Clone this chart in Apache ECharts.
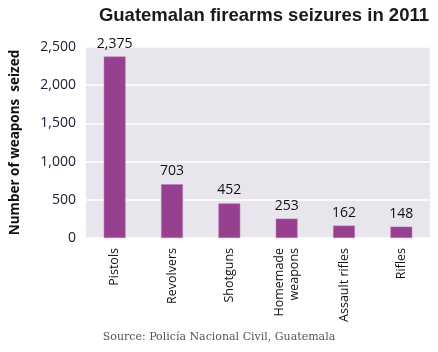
<!DOCTYPE html>
<html lang="en">
<head>
    <meta charset="UTF-8">
    <title>Guatemalan firearms seizures in 2011</title>
    <style>
        html, body { margin: 0; padding: 0; background: #fff; }
    </style>
</head>
<body>
<div id="chart1" style="width: 438px; height: 352px;"></div>

<script type="text/javascript" src="https://cdn.jsdelivr.net/npm/echarts@6/dist/echarts.min.js"></script>
<script type="text/javascript">
    var categories = ['Pistols', 'Revolvers', 'Shotguns', 'Homemade\nweapons', 'Assault rifles', 'Rifles'];
    var seized = [2375, 703, 452, 253, 162, 148];
    var yTicks = [0, 500, 1000, 1500, 2000, 2500];

    var myChart1 = echarts.init(document.getElementById('chart1'));
    myChart1.setOption({
        title: [{
            text: 'Guatemalan firearms seizures in 2011',
            right: 4,
            top: 1,
            textStyle: { fontFamily: 'Liberation Sans', fontWeight: 'bold', fontSize: 18.5, color: '#1a1a1a' }
        }, {
            text: 'Source: Policía Nacional Civil, Guatemala',
            left: 'center',
            top: 327,
            textStyle: { fontFamily: 'DejaVu Serif', fontWeight: 'normal', fontSize: 11, color: '#555' }
        }],
        grid: {
            left: 83, right: 8, top: 47, bottom: 114,
            show: true, backgroundColor: '#e8e5ed', borderWidth: 0
        },
        xAxis: {
            type: 'category',
            data: categories,
            axisLine: { show: false },
            axisTick: { show: false },
            axisLabel: {
                rotate: 90, interval: 0, margin: 10,
                fontFamily: 'Open Sans', fontSize: 12.5, color: '#111', lineHeight: 15
            }
        },
        yAxis: {
            type: 'value',
            min: yTicks[0],
            max: yTicks[yTicks.length - 1],
            interval: 500,
            name: 'Number of weapons  seized',
            nameLocation: 'middle',
            nameGap: 64,
            nameTextStyle: { fontFamily: 'Open Sans', fontWeight: 'bold', fontSize: 13.5, color: '#111' },
            axisLine: { show: false },
            axisTick: { show: false },
            splitLine: { lineStyle: { color: '#ffffff', width: 1.5 } },
            axisLabel: {
                margin: 10,
                fontFamily: 'Open Sans', fontSize: 14, color: '#1a1a33',
                formatter: function (v) { return v.toLocaleString('en-US'); }
            }
        },
        series: [{
            type: 'bar',
            data: seized,
            barWidth: '38%',
            itemStyle: { color: '#96408f', borderColor: '#b77ab2', borderWidth: 0.5 },
            label: {
                show: true, position: 'top', distance: 6,
                fontFamily: 'Open Sans', fontSize: 14, color: '#111',
                formatter: function (p) { return p.value.toLocaleString('en-US'); }
            }
        }]
    });
</script>

</body>
</html>
